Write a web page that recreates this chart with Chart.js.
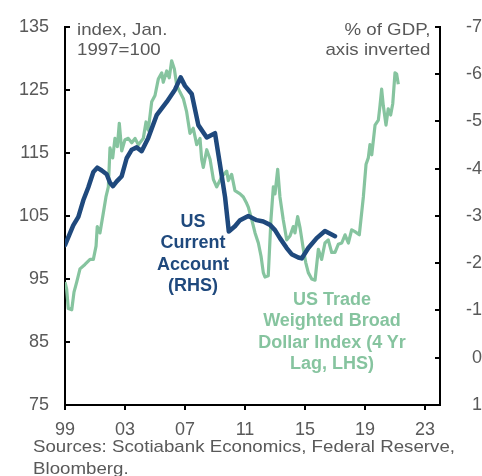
<!DOCTYPE html>
<html>
<head>
<meta charset="utf-8">
<script src="https://cdn.jsdelivr.net/npm/chart.js@4/dist/chart.umd.min.js"></script>
<style>
  html, body { margin: 0; padding: 0; background: #fff; }
  #wrap { position: relative; width: 482px; height: 476px; overflow: hidden; font-family: "Liberation Sans", Arial, sans-serif; }
  canvas { position: absolute; left: 0; top: 0; }
  .lbl { position: absolute; white-space: nowrap; }
  .unit { color: #595959; font-size: 17px; line-height: 20px; }
  .ser { font-weight: bold; font-size: 18px; line-height: 21.3px; text-align: center; }
  .src { color: #595959; font-size: 17px; line-height: 22px; transform: scaleX(1.1); transform-origin: left top; }
</style>
</head>
<body>
<div id="wrap">
  <canvas id="c" width="482" height="476"></canvas>
  <div class="lbl unit" style="left:77px;top:20px;transform:scaleX(1.1);transform-origin:left top;">index, Jan.<br>1997=100</div>
  <div class="lbl unit" style="right:52px;top:20px;text-align:right;transform:scaleX(1.1);transform-origin:right top;">% of GDP,<br>axis inverted</div>
  <div class="lbl ser" style="left:93px;width:200px;top:211px;color:#1F497D;">US<br>Current<br>Account<br>(RHS)</div>
  <div class="lbl ser" style="left:232px;width:200px;top:289px;color:#86C49F;">US Trade<br>Weighted Broad<br>Dollar Index (4 Yr<br>Lag, LHS)</div>
  <div class="lbl src" style="left:33px;top:436px;">Sources: Scotiabank Economics, Federal Reserve,<br>Bloomberg.</div>
</div>
<script>
// ---- Data ----
const xTickYears = [1999, 2003, 2007, 2011, 2015, 2019, 2023];
const leftTicks = [75, 85, 95, 105, 115, 125, 135];
const rightTicks = [-7, -6, -5, -4, -3, -2, -1, 0, 1];

// US Trade Weighted Broad Dollar Index, 4-yr lag (LHS)
const dollarYears = [1999.00,1999.11,1999.22,1999.45,1999.60,1999.78,2000.00,2000.33,2000.67,2000.89,2001.07,2001.15,2001.33,2001.55,2001.73,2001.89,2002.00,2002.18,2002.33,2002.49,2002.62,2002.78,2003.00,2003.22,2003.45,2003.67,2003.89,2004.22,2004.40,2004.55,2004.78,2005.00,2005.22,2005.45,2005.55,2005.78,2005.95,2006.11,2006.29,2006.45,2006.67,2006.89,2007.11,2007.33,2007.55,2007.78,2008.00,2008.11,2008.22,2008.45,2008.67,2008.89,2009.11,2009.45,2009.78,2009.89,2010.11,2010.33,2010.67,2010.89,2011.11,2011.22,2011.45,2011.67,2011.89,2012.07,2012.22,2012.33,2012.55,2012.73,2012.89,2013.00,2013.18,2013.33,2013.55,2013.78,2014.00,2014.22,2014.33,2014.51,2014.67,2014.89,2015.05,2015.22,2015.45,2015.67,2015.89,2016.11,2016.33,2016.55,2016.78,2017.00,2017.22,2017.45,2017.67,2017.89,2018.11,2018.33,2018.62,2018.89,2019.07,2019.22,2019.33,2019.45,2019.67,2019.89,2020.00,2020.11,2020.22,2020.40,2020.55,2020.71,2020.85,2021.00,2021.11,2021.22];
const dollarValues = [94.5,93.4,90.3,90.1,92.9,94.5,96.6,97.3,98.1,98.1,100.2,103.3,102.3,105.4,108.0,109.6,115.8,114.2,117.3,116.0,119.7,115.3,117.1,117.3,116.6,117.3,116.3,117.3,119.9,118.6,123.1,124.1,126.7,127.7,126.2,128.0,126.9,129.6,128.3,125.7,124.6,123.6,121.5,118.1,118.9,116.3,117.3,114.0,112.7,115.5,114.0,110.8,109.6,111.2,112.1,110.6,111.6,109.0,108.5,108.0,107.0,106.4,104.4,102.3,100.7,98.6,96.0,95.3,95.5,104.4,109.6,108.5,112.4,108.0,104.4,101.2,101.8,103.3,102.3,104.9,103.1,99.7,97.6,96.0,95.0,94.8,99.7,98.1,100.7,101.2,99.2,99.2,100.5,100.7,102.0,100.7,102.8,102.5,102.0,108.0,113.2,114.2,116.3,114.7,119.4,120.2,122.5,125.1,122.5,119.4,122.0,121.0,122.8,127.7,127.5,125.9];

// US Current Account, % of GDP (RHS, inverted)
const caYears = [1999.00,1999.55,1999.89,2000.22,2000.55,2000.89,2001.15,2001.45,2001.78,2002.00,2002.20,2002.45,2002.78,2003.11,2003.45,2003.78,2004.11,2004.55,2005.11,2005.78,2006.33,2006.71,2007.00,2007.45,2007.89,2008.45,2009.00,2009.33,2009.67,2009.92,2010.33,2010.67,2011.22,2011.78,2012.22,2012.67,2013.00,2013.33,2013.78,2014.11,2014.55,2014.78,2015.22,2015.78,2016.33,2017.00];
const caValues = [-2.38,-2.80,-2.98,-3.33,-3.60,-3.93,-4.02,-3.96,-3.88,-3.70,-3.63,-3.73,-3.84,-4.22,-4.40,-4.45,-4.37,-4.65,-5.13,-5.41,-5.67,-5.93,-5.75,-5.58,-4.92,-4.66,-4.75,-4.09,-3.40,-2.67,-2.78,-2.91,-3.00,-2.91,-2.88,-2.81,-2.70,-2.53,-2.32,-2.19,-2.12,-2.10,-2.32,-2.53,-2.68,-2.57];

const BLUE = '#1F497D';
const GREEN = '#86C49F';
const GREY = '#595959';
const FONT = { family: '"Liberation Sans", Arial, sans-serif', size: 18 };

const innerTicks = {
  id: 'innerTicks',
  afterDraw(chart) {
    const ctx = chart.ctx;
    const a = chart.chartArea;
    ctx.save();
    ctx.strokeStyle = '#000';
    ctx.lineWidth = 2;
    const yl = chart.scales.y;
    leftTicks.forEach(v => {
      const p = Math.round(yl.getPixelForValue(v));
      ctx.beginPath(); ctx.moveTo(a.left, p); ctx.lineTo(a.left + 5, p); ctx.stroke();
    });
    const yr = chart.scales.y2;
    rightTicks.forEach(v => {
      const p = Math.round(yr.getPixelForValue(v));
      ctx.beginPath(); ctx.moveTo(a.right, p); ctx.lineTo(a.right - 5, p); ctx.stroke();
    });
    ctx.restore();
  }
};

new Chart(document.getElementById('c'), {
  type: 'line',
  data: {
    datasets: [
      {
        label: 'US Current Account (RHS)',
        data: caYears.map((x, i) => ({ x, y: caValues[i] })),
        yAxisID: 'y2',
        borderColor: BLUE,
        borderWidth: 4.5,
        pointRadius: 0,
        tension: 0,
        order: 0,
        borderJoinStyle: 'round',
        borderCapStyle: 'round'
      },
      {
        label: 'US Trade Weighted Broad Dollar Index (4 Yr Lag, LHS)',
        data: dollarYears.map((x, i) => ({ x, y: dollarValues[i] })),
        yAxisID: 'y',
        borderColor: GREEN,
        borderWidth: 3.2,
        pointRadius: 0,
        tension: 0,
        order: 1,
        borderJoinStyle: 'round'
      }
    ]
  },
  options: {
    responsive: false,
    animation: false,
    devicePixelRatio: 1,
    layout: { padding: { top: 20, left: 0, right: 0, bottom: 0 } },
    plugins: { legend: { display: false }, tooltip: { enabled: false } },
    scales: {
      x: {
        type: 'linear',
        min: 1999,
        max: 2024,
        afterBuildTicks: s => { s.ticks = xTickYears.map(v => ({ value: v })); },
        afterFit: s => { s.height = 71; },
        grid: { drawOnChartArea: false, drawTicks: true, tickLength: 5, color: '#000', lineWidth: 2 },
        border: { display: true, color: '#000', width: 2 },
        ticks: {
          color: GREY, font: FONT, padding: 9, maxRotation: 0, autoSkip: false,
          callback: v => String(Math.round(v) % 100).padStart(2, '0')
        }
      },
      y: {
        position: 'left',
        min: 75,
        max: 135,
        afterBuildTicks: s => { s.ticks = leftTicks.map(v => ({ value: v })); },
        afterFit: s => { s.width = 65; },
        grid: { drawOnChartArea: false, drawTicks: false },
        border: { display: true, color: '#000', width: 2 },
        ticks: { color: GREY, font: FONT, padding: 16 }
      },
      y2: {
        position: 'right',
        min: -7,
        max: 1,
        reverse: true,
        afterBuildTicks: s => { s.ticks = rightTicks.map(v => ({ value: v })); },
        afterFit: s => { s.width = 42; },
        grid: { drawOnChartArea: false, drawTicks: false },
        border: { display: true, color: '#000', width: 2 },
        ticks: { color: GREY, font: FONT, padding: 7, crossAlign: 'far' }
      }
    }
  },
  plugins: [innerTicks]
});
</script>
</body>
</html>
